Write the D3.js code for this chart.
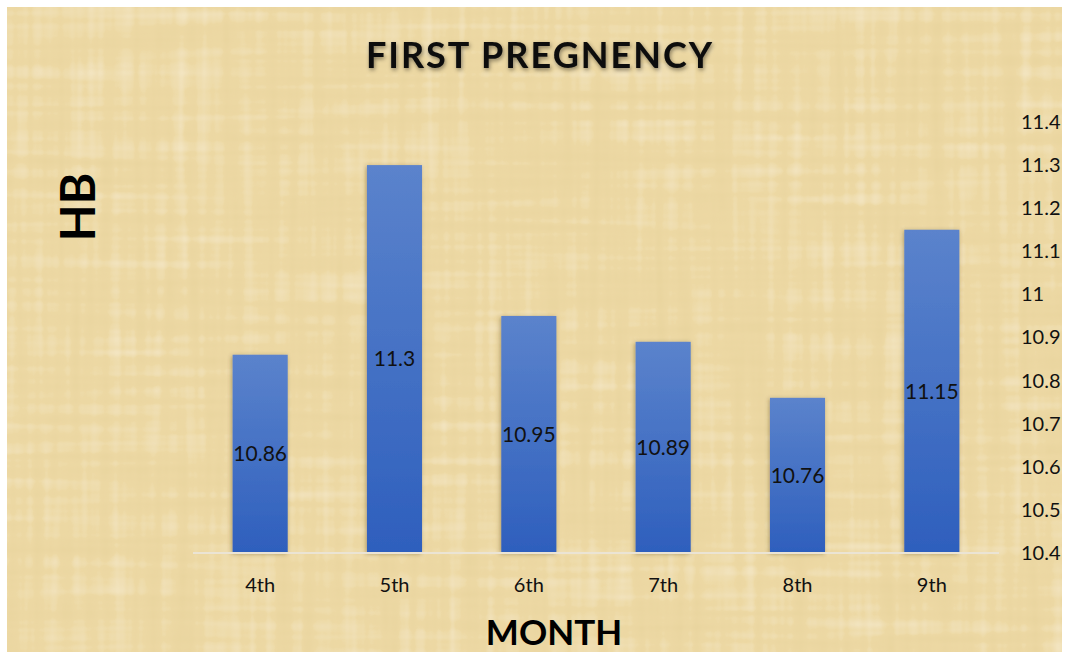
<!DOCTYPE html>
<html>
<head>
<meta charset="utf-8">
<script src="https://cdn.jsdelivr.net/npm/d3@7"></script>
<style>
  html, body { margin: 0; padding: 0; background: #ffffff; }
  svg { display: block; }
  text { font-family: Lato, "Open Sans", sans-serif; }
</style>
</head>
<body>
<svg id="chart" width="1068" height="659"></svg>
<script>
const categories = ["4th", "5th", "6th", "7th", "8th", "9th"];
const values = [10.86, 11.3, 10.95, 10.89, 10.76, 11.15];
const tickValues = [10.4, 10.5, 10.6, 10.7, 10.8, 10.9, 11, 11.1, 11.2, 11.3, 11.4];
const title = "FIRST PREGNENCY";
const xTitle = "MONTH";
const yTitle = "HB";

const svg = d3.select("#chart");
const defs = svg.append("defs");

// papyrus-like texture
const tex = defs.append("filter").attr("id", "papyrus")
  .attr("x", 0).attr("y", 0).attr("width", "100%").attr("height", "100%");
tex.append("feTurbulence").attr("type", "fractalNoise")
  .attr("baseFrequency", "0.004 0.09").attr("numOctaves", 2).attr("seed", 3).attr("result", "n1");
tex.append("feTurbulence").attr("type", "fractalNoise")
  .attr("baseFrequency", "0.09 0.004").attr("numOctaves", 2).attr("seed", 7).attr("result", "n2");
tex.append("feComposite").attr("in", "n1").attr("in2", "n2")
  .attr("operator", "arithmetic").attr("k1", 0).attr("k2", 0.5).attr("k3", 0.5).attr("k4", 0).attr("result", "n");
tex.append("feColorMatrix").attr("in", "n").attr("type", "matrix")
  .attr("values", "0 0 0 0 0.75  0 0 0 0 0.6  0 0 0 0 0.3  -1.0 0 0 0 0.55")
  .attr("result", "dark");
tex.append("feColorMatrix").attr("in", "n").attr("type", "matrix")
  .attr("values", "0 0 0 0 1  0 0 0 0 0.97  0 0 0 0 0.88  1.0 0 0 0 -0.5")
  .attr("result", "light");
tex.append("feComposite").attr("in", "dark").attr("in2", "SourceGraphic").attr("operator", "in").attr("result", "d2");
tex.append("feComposite").attr("in", "light").attr("in2", "SourceGraphic").attr("operator", "in").attr("result", "l2");
tex.append("feMerge").call(m => {
  m.append("feMergeNode").attr("in", "SourceGraphic");
  m.append("feMergeNode").attr("in", "d2");
  m.append("feMergeNode").attr("in", "l2");
});

const grad = defs.append("linearGradient").attr("id", "barGrad")
  .attr("x1", 0).attr("y1", 0).attr("x2", 0).attr("y2", 1);
grad.append("stop").attr("offset", "0%").attr("stop-color", "#5b83cc");
grad.append("stop").attr("offset", "100%").attr("stop-color", "#2e5fbd");

const shadow = defs.append("filter").attr("id", "barShadow")
  .attr("x", "-20%").attr("y", "-5%").attr("width", "140%").attr("height", "110%");
shadow.append("feDropShadow").attr("dx", -1).attr("dy", 1).attr("stdDeviation", 2)
  .attr("flood-color", "#4a3a10").attr("flood-opacity", 0.4);

const tshadow = defs.append("filter").attr("id", "textShadow")
  .attr("x", "-10%").attr("y", "-30%").attr("width", "120%").attr("height", "160%");
tshadow.append("feDropShadow").attr("dx", 1).attr("dy", 2).attr("stdDeviation", 2)
  .attr("flood-color", "#000").attr("flood-opacity", 0.45);

// background
svg.append("rect").attr("x", 7).attr("y", 7).attr("width", 1055).attr("height", 645)
  .attr("fill", "#edd9a4").attr("filter", "url(#papyrus)");

// scales
const x = d3.scaleBand().domain(categories).range([193, 999]).paddingInner(0.59).paddingOuter(0.295);
const y = d3.scaleLinear().domain([10.4, 11.4]).range([553, 122]);

// bars
svg.append("g").selectAll("rect").data(values).join("rect")
  .attr("x", (d, i) => x(categories[i]))
  .attr("y", d => y(d))
  .attr("width", x.bandwidth())
  .attr("height", d => y(10.4) - y(d))
  .attr("fill", "url(#barGrad)")
  .attr("filter", "url(#barShadow)");

// baseline
svg.append("line").attr("x1", 193).attr("x2", 999).attr("y1", y(10.4)).attr("y2", y(10.4))
  .attr("stroke", "#ebe4d4").attr("stroke-width", 2);

// data labels
svg.append("g").selectAll("text").data(values).join("text")
  .attr("x", (d, i) => x(categories[i]) + x.bandwidth() / 2)
  .attr("y", d => (y(d) + y(10.4)) / 2)
  .attr("dy", "0.35em")
  .attr("text-anchor", "middle")
  .attr("font-size", 21)
  .attr("fill", "#111")
  .text(d => d);

// right axis
const yAxis = d3.axisRight(y).tickValues(tickValues).tickSize(0).tickPadding(0)
  .tickFormat(d => d3.format("")(+d.toFixed(1)));
const ya = svg.append("g").attr("transform", "translate(1021,0)").call(yAxis);
ya.select(".domain").remove();
ya.selectAll("text").attr("font-size", 20).attr("fill", "#111").attr("font-family", "Lato, sans-serif");

// bottom axis
const xAxis = d3.axisBottom(x).tickSize(0).tickPadding(0);
const xa = svg.append("g").attr("transform", "translate(0,578)").call(xAxis);
xa.select(".domain").remove();
xa.selectAll("text").attr("font-size", 20).attr("fill", "#111").attr("font-family", "Lato, sans-serif");

// titles
svg.append("text").attr("x", 540).attr("y", 68).attr("text-anchor", "middle")
  .attr("font-size", 36).attr("font-weight", 700).attr("fill", "#0a0a0a")
  .attr("letter-spacing", 2)
  .attr("filter", "url(#textShadow)")
  .text(title);

svg.append("text").attr("x", 554).attr("y", 645).attr("text-anchor", "middle")
  .attr("font-size", 35).attr("font-weight", 700).attr("fill", "#000")
  .text(xTitle);

svg.append("text").attr("transform", "translate(95,207) rotate(-90)").attr("text-anchor", "middle")
  .attr("font-size", 48).attr("font-weight", 700).attr("fill", "#000")
  .text(yTitle);
</script>
</body>
</html>
